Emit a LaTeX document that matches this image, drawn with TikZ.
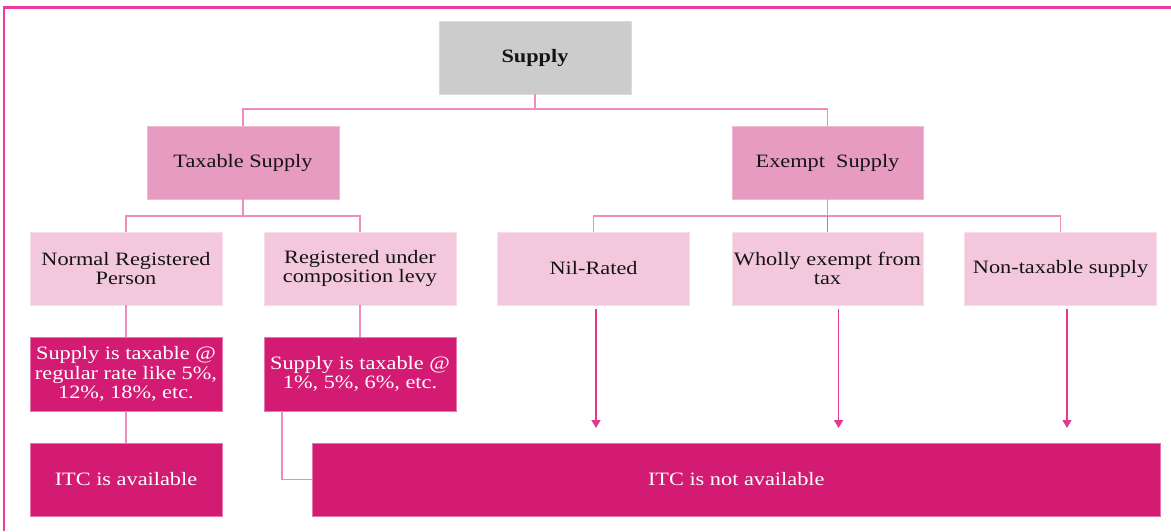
\documentclass[tikz,border=0pt]{standalone}
\usepackage{fontspec}
\setmainfont{Liberation Serif}[FakeStretch=1.18]
\usetikzlibrary{arrows.meta,calc}
\definecolor{framec}{HTML}{F03A9F}
\definecolor{grayc}{HTML}{CCCCCC}
\definecolor{midc}{HTML}{E89BC0}
\definecolor{lightc}{HTML}{F4C8DC}
\definecolor{darkc}{HTML}{D41B73}
\definecolor{connc}{HTML}{F08CBB}
\definecolor{arrc}{HTML}{E4388D}
\definecolor{greenc}{HTML}{72B04E}
\definecolor{txtc}{HTML}{141414}
\begin{document}
\begin{tikzpicture}[x=1pt,y=-1pt,
  box/.style={rectangle, inner sep=0pt, align=center, minimum width=192pt, minimum height=73pt,
    font=\fontsize{18.9}{19.4}\selectfont, line width=0.8pt},
  topbox/.style={box, fill=grayc, draw=grayc!70!white, text=txtc, font=\fontsize{18.9}{19.4}\selectfont\bfseries},
  midbox/.style={box, fill=midc, draw=midc!70!white, text=txtc},
  lightbox/.style={box, fill=lightc, draw=lightc!60!white, text=txtc},
  darkbox/.style={box, fill=darkc, draw=darkc!60!white, text=white},
  conn/.style={draw=connc, line width=1.6pt},
  arr/.style={draw=arrc, line width=1.6pt, -{Triangle[width=9pt,length=8pt]}},
  frame/.style={draw=framec, line width=2.6pt}
]
\useasboundingbox (0,0) rectangle (1171,531);
\draw[frame] (4,531) -- (4,7.5) -- (1171,7.5);

\node[topbox] (supply) at (535,57.5) {Supply};
\node[midbox, minimum width=192pt] (tax) at (243,162.5) {Taxable Supply};
\node[midbox, minimum width=191pt] (exm) at (827.5,162.5) {Exempt\ \ Supply};

\node[lightbox] (nrp) at (126,268.5) {Normal Registered\\Person};
\node[lightbox] (comp) at (360,268.5) {Registered under\\composition\ levy};
\node[lightbox] (nil) at (593.6,268.5) {Nil-Rated};
\node[lightbox, minimum width=191pt] (whol) at (827.5,268.5) {Wholly exempt from\\tax};
\node[lightbox] (nont) at (1060.6,268.5) {Non-taxable\ supply};

\node[darkbox, minimum height=74pt] (rate1) at (126,374) {Supply\ is taxable @\\regular rate like 5\%,\\12\%, 18\%, etc.};
\node[darkbox, minimum height=74pt] (rate2) at (360,374) {Supply\ is taxable @\\1\%, 5\%, 6\%, etc.};

\node[darkbox] (itca) at (126,479.5) {ITC is available};
\node[darkbox, minimum width=848.5pt] (itcn) at (736.25,479.5) {ITC is not available};

% connectors
\coordinate (b1) at (535,109);
\coordinate (b2) at (243,216);
\coordinate (b3) at (827.5,216);
\draw[conn] (supply.south) -- (b1);
\draw[conn] (b1) -| (tax.north);
\draw[conn] (b1) -| (exm.north);
\draw[conn] (tax.south) -- (b2);
\draw[conn] (b2) -| (nrp.north);
\draw[conn] (b2) -| (comp.north);
\draw[conn] (exm.south) -- (b3);
\draw[conn] (b3) -| (nil.north);
\draw[conn] (b3) -| (nont.north);
\draw[draw=greenc, line width=1.6pt] (b3) -- (whol.north);
\draw[conn] (nrp.south) -- (rate1.north);
\draw[conn] (rate1.south) -- (itca.north);
\draw[conn] (comp.south) -- (rate2.north);
\draw[conn] ($(rate2.south west)+(18.5,0)$) |- (itcn.west);

% arrows
\coordinate (a1) at (596,428);
\coordinate (a2) at (838.6,428);
\coordinate (a3) at (1067,428);
\draw[arr] ($(nil.south -| a1)+(0,4)$) -- (a1);
\draw[arr] ($(whol.south -| a2)+(0,4)$) -- (a2);
\draw[arr] ($(nont.south -| a3)+(0,4)$) -- (a3);
\end{tikzpicture}
\end{document}
